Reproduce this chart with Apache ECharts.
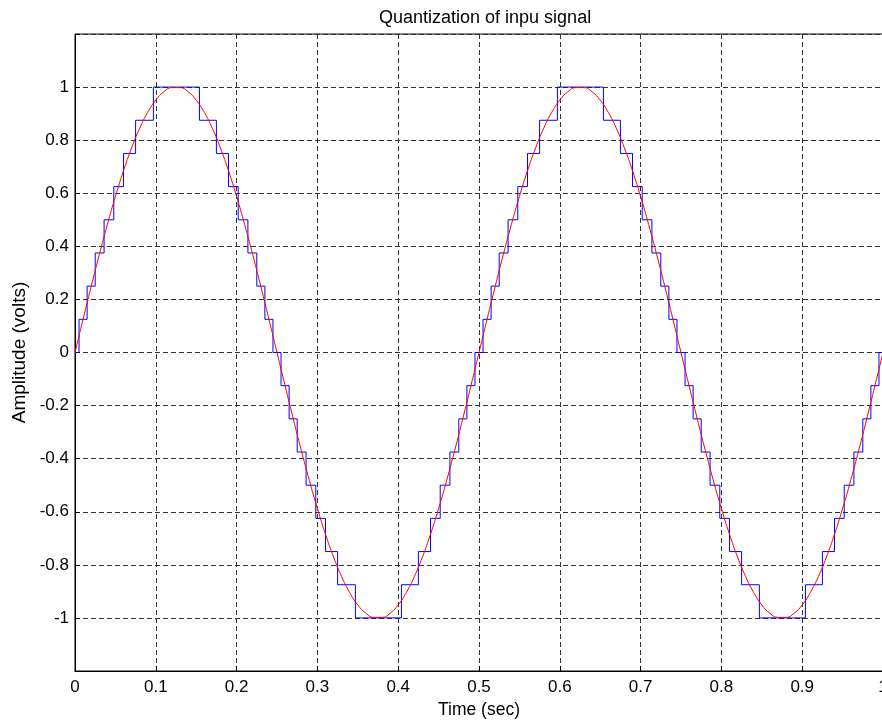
<!DOCTYPE html>
<html>
<head>
<meta charset="utf-8">
<title>Quantization of inpu signal</title>
<script src="https://cdn.jsdelivr.net/npm/echarts@6/dist/echarts.min.js"></script>
<style>
  html, body { margin: 0; padding: 0; background: #fff; }
  #chart { width: 882px; height: 720px; }
</style>
</head>
<body>
<div id="chart"></div>
<script>
// red sine, sampled every 0.01 s
const sineTimes = [
  0.00, 0.01, 0.02, 0.03, 0.04, 0.05, 0.06, 0.07, 0.08, 0.09,
  0.10, 0.11, 0.12, 0.13, 0.14, 0.15, 0.16, 0.17, 0.18, 0.19,
  0.20, 0.21, 0.22, 0.23, 0.24, 0.25, 0.26, 0.27, 0.28, 0.29,
  0.30, 0.31, 0.32, 0.33, 0.34, 0.35, 0.36, 0.37, 0.38, 0.39,
  0.40, 0.41, 0.42, 0.43, 0.44, 0.45, 0.46, 0.47, 0.48, 0.49,
  0.50, 0.51, 0.52, 0.53, 0.54, 0.55, 0.56, 0.57, 0.58, 0.59,
  0.60, 0.61, 0.62, 0.63, 0.64, 0.65, 0.66, 0.67, 0.68, 0.69,
  0.70, 0.71, 0.72, 0.73, 0.74, 0.75, 0.76, 0.77, 0.78, 0.79,
  0.80, 0.81, 0.82, 0.83, 0.84, 0.85, 0.86, 0.87, 0.88, 0.89,
  0.90, 0.91, 0.92, 0.93, 0.94, 0.95, 0.96, 0.97, 0.98, 0.99,
  1.00
]
const sineValues = [
  0, 0.1253, 0.2487, 0.3681, 0.4818, 0.5878, 0.6845, 0.7705, 0.8443, 0.9048,
  0.9511, 0.9823, 0.9980, 0.9980, 0.9823, 0.9511, 0.9048, 0.8443, 0.7705, 0.6845,
  0.5878, 0.4818, 0.3681, 0.2487, 0.1253, 0, -0.1253, -0.2487, -0.3681, -0.4818,
  -0.5878, -0.6845, -0.7705, -0.8443, -0.9048, -0.9511, -0.9823, -0.9980, -0.9980, -0.9823,
  -0.9511, -0.9048, -0.8443, -0.7705, -0.6845, -0.5878, -0.4818, -0.3681, -0.2487, -0.1253,
  0, 0.1253, 0.2487, 0.3681, 0.4818, 0.5878, 0.6845, 0.7705, 0.8443, 0.9048,
  0.9511, 0.9823, 0.9980, 0.9980, 0.9823, 0.9511, 0.9048, 0.8443, 0.7705, 0.6845,
  0.5878, 0.4818, 0.3681, 0.2487, 0.1253, 0, -0.1253, -0.2487, -0.3681, -0.4818,
  -0.5878, -0.6845, -0.7705, -0.8443, -0.9048, -0.9511, -0.9823, -0.9980, -0.9980, -0.9823,
  -0.9511, -0.9048, -0.8443, -0.7705, -0.6845, -0.5878, -0.4818, -0.3681, -0.2487, -0.1253,
  0
]

// blue staircase: time where each quantized level starts, and the level
const stepTimes = [
  0, 0.005, 0.015, 0.025, 0.036, 0.048, 0.060, 0.075, 0.097,
  0.154, 0.175, 0.190, 0.202, 0.214, 0.225, 0.235, 0.245,
  0.255, 0.265, 0.275, 0.286, 0.298, 0.310, 0.325, 0.347,
  0.404, 0.425, 0.440, 0.452, 0.464, 0.475, 0.485, 0.495,
  0.505, 0.515, 0.525, 0.536, 0.548, 0.560, 0.575, 0.597,
  0.654, 0.675, 0.690, 0.702, 0.714, 0.725, 0.735, 0.745,
  0.755, 0.765, 0.775, 0.786, 0.798, 0.810, 0.825, 0.847,
  0.904, 0.925, 0.940, 0.952, 0.964, 0.975, 0.985, 0.995,
  1.0
]
const stepLevels = [
  0, 0.125, 0.25, 0.375, 0.5, 0.625, 0.75, 0.875, 1,
  0.875, 0.75, 0.625, 0.5, 0.375, 0.25, 0.125, 0,
  -0.125, -0.25, -0.375, -0.5, -0.625, -0.75, -0.875, -1,
  -0.875, -0.75, -0.625, -0.5, -0.375, -0.25, -0.125, 0,
  0.125, 0.25, 0.375, 0.5, 0.625, 0.75, 0.875, 1,
  0.875, 0.75, 0.625, 0.5, 0.375, 0.25, 0.125, 0,
  -0.125, -0.25, -0.375, -0.5, -0.625, -0.75, -0.875, -1,
  -0.875, -0.75, -0.625, -0.5, -0.375, -0.25, -0.125, 0,
  0
]

const font = 'Liberation Sans, Arial, sans-serif'
const gridLine = { show: true, lineStyle: { color: '#333', width: 1, type: [5, 3] } }

const chart = echarts.init(document.getElementById('chart'))
chart.setOption({
  animation: false,
  title: {
    text: 'Quantization of inpu signal',
    left: 374, top: 4,
    textStyle: { fontFamily: font, fontSize: 18, fontWeight: 'normal', color: '#000' }
  },
  grid: {
    left: 75, width: 808, top: 34, height: 637,
    outerBoundsMode: 'none', containLabel: false,
    show: true, borderColor: '#000', borderWidth: 1
  },
  xAxis: {
    type: 'value', min: 0, max: 1, interval: 0.1,
    name: 'Time (sec)', nameLocation: 'middle', nameGap: 28,
    nameTextStyle: { fontFamily: font, fontSize: 17.5, color: '#000' },
    axisLine: { onZero: false, lineStyle: { color: '#000', width: 1 } },
    axisTick: { inside: true, length: 5, lineStyle: { color: '#000' } },
    axisLabel: { fontFamily: font, fontSize: 17, color: '#000', margin: 8, showMaxLabel: true },
    splitLine: gridLine
  },
  yAxis: {
    type: 'value', min: -1.2, max: 1.2, interval: 0.2,
    name: 'Amplitude (volts)', nameLocation: 'middle', nameGap: 46,
    nameTextStyle: { fontFamily: font, fontSize: 19, color: '#000' },
    axisLine: { onZero: false, lineStyle: { color: '#000', width: 1 } },
    axisTick: { inside: true, length: 5, lineStyle: { color: '#000' } },
    axisLabel: {
      fontFamily: font, fontSize: 17, color: '#000', margin: 6,
      formatter: v => Math.abs(v) > 1.01 ? '' : String(Math.round(v * 10) / 10)
    },
    splitLine: gridLine
  },
  series: [
    {
      type: 'line', step: 'end', symbol: 'none',
      data: stepTimes.map((t, i) => [t, stepLevels[i]]),
      lineStyle: { color: '#0000ff', width: 1 }
    },
    {
      type: 'line', smooth: true, symbol: 'none',
      data: sineTimes.map((t, i) => [t, sineValues[i]]),
      lineStyle: { color: '#ff0000', width: 1 }
    }
  ]
})
</script>
</body>
</html>
